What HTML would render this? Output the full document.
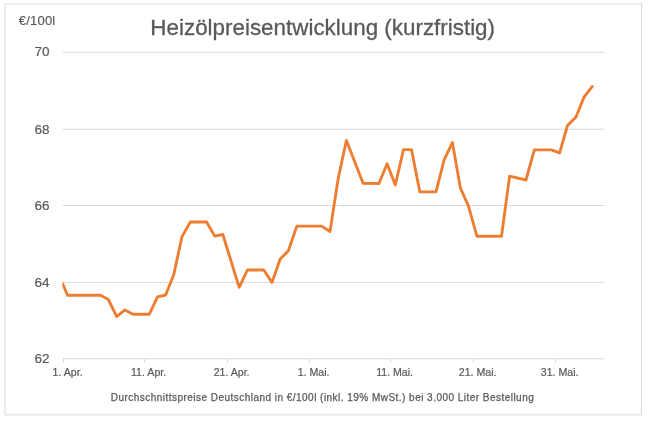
<!DOCTYPE html>
<html><head><meta charset="utf-8"><title>Heizölpreisentwicklung</title>
<style>
html,body{margin:0;padding:0;background:#fff;}
body{width:650px;height:421px;overflow:hidden;}
svg{display:block;}
text{font-family:"Liberation Sans",Arial,sans-serif;fill:#595959;}
.title{font-size:22.4px;stroke:#595959;stroke-width:0.3px;}
.unit{font-size:13px;letter-spacing:0.2px;stroke:#595959;stroke-width:0.15px;}
.ylab{font-size:13.5px;stroke:#595959;stroke-width:0.2px;}
.xlab{font-size:10.6px;stroke:#595959;stroke-width:0.2px;}
.foot{font-size:10px;letter-spacing:0.47px;stroke:#595959;stroke-width:0.25px;}
</style></head>
<body>
<svg width="650" height="421" viewBox="0 0 650 421">
<rect x="5.1" y="3.95" width="636.4" height="410.9" fill="#fff" stroke="#d9d9d9" stroke-width="1"/>
<line x1="63" y1="52.3" x2="604.5" y2="52.3" stroke="#d9d9d9" stroke-width="1"/>
<line x1="63" y1="129.2" x2="604.5" y2="129.2" stroke="#d9d9d9" stroke-width="1"/>
<line x1="63" y1="205.5" x2="604.5" y2="205.5" stroke="#d9d9d9" stroke-width="1"/>
<line x1="63" y1="282.4" x2="604.5" y2="282.4" stroke="#d9d9d9" stroke-width="1"/>
<line x1="63" y1="358.8" x2="604.5" y2="358.8" stroke="#d9d9d9" stroke-width="1"/>
<line x1="63.5" y1="358.8" x2="63.5" y2="362.7" stroke="#d9d9d9" stroke-width="1"/>
<line x1="144.5" y1="358.8" x2="144.5" y2="362.7" stroke="#d9d9d9" stroke-width="1"/>
<line x1="227.5" y1="358.8" x2="227.5" y2="362.7" stroke="#d9d9d9" stroke-width="1"/>
<line x1="309.5" y1="358.8" x2="309.5" y2="362.7" stroke="#d9d9d9" stroke-width="1"/>
<line x1="390.5" y1="358.8" x2="390.5" y2="362.7" stroke="#d9d9d9" stroke-width="1"/>
<line x1="473.5" y1="358.8" x2="473.5" y2="362.7" stroke="#d9d9d9" stroke-width="1"/>
<line x1="555.5" y1="358.8" x2="555.5" y2="362.7" stroke="#d9d9d9" stroke-width="1"/>
<clipPath id="pa"><rect x="62.4" y="0" width="543" height="421"/></clipPath>
<polyline clip-path="url(#pa)" points="62.6,283.6 67.5,295.2 100.2,295.1 108.3,299.5 116.7,316.6 124.8,310 133,314.2 149.4,314.2 157.5,296.8 165.7,295 173.8,274.5 182,236.6 190.3,222 206.6,222 214.7,236.1 222.8,234.5 239.2,287.4 247.4,270 263.7,270 272,282.4 280.2,259 288.4,250.7 296.8,226.1 321.7,226.1 330,231.5 338.2,178.5 346.4,140.4 363.2,183.4 378.9,183.5 387.1,163.7 395.3,185 403.5,149.6 411.5,149.6 419.8,191.8 436,191.8 444.2,159.7 452.4,142.6 460.4,188 468.5,206.2 476.9,236.2 501.5,236.2 509.6,176.1 526,180 534.3,149.9 551.3,149.9 559.6,152.8 567.5,125.5 576,117 584,97.1 592.3,86.4" fill="none" stroke="#ed7d31" stroke-width="2.85" stroke-linejoin="round" stroke-linecap="round"/>
<text x="322.7" y="35.2" text-anchor="middle" class="title">Heizölpreisentwicklung (kurzfristig)</text>
<text x="18.8" y="24.7" class="unit">€/100l</text>
<text x="49.6" y="56.3" text-anchor="end" class="ylab">70</text>
<text x="49.6" y="133.8" text-anchor="end" class="ylab">68</text>
<text x="49.6" y="209.8" text-anchor="end" class="ylab">66</text>
<text x="49.6" y="286.8" text-anchor="end" class="ylab">64</text>
<text x="49.6" y="363.0" text-anchor="end" class="ylab">62</text>
<text x="67.6" y="375.7" text-anchor="middle" class="xlab">1. Apr.</text>
<text x="148.6" y="375.7" text-anchor="middle" class="xlab">11. Apr.</text>
<text x="231.6" y="375.7" text-anchor="middle" class="xlab">21. Apr.</text>
<text x="313.6" y="375.7" text-anchor="middle" class="xlab">1. Mai.</text>
<text x="394.6" y="375.7" text-anchor="middle" class="xlab">11. Mai.</text>
<text x="477.6" y="375.7" text-anchor="middle" class="xlab">21. Mai.</text>
<text x="559.6" y="375.7" text-anchor="middle" class="xlab">31. Mai.</text>
<text x="322.5" y="400.5" text-anchor="middle" class="foot">Durchschnittspreise Deutschland in €/100l (inkl. 19% MwSt.) bei 3.000 Liter Bestellung</text>
</svg>
</body></html>
